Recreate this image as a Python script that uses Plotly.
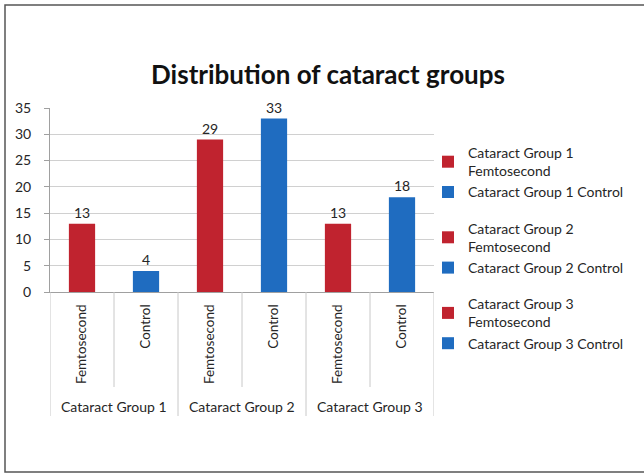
import plotly.graph_objects as go

groups = ["Cataract Group 1", "Cataract Group 2", "Cataract Group 3"]
subgroups = ["Femtosecond", "Control"]
values = [[13, 4], [29, 33], [13, 18]]
colors = {"Femtosecond": "#C0232F", "Control": "#1F6CC0"}
y_ticks = [0, 5, 10, 15, 20, 25, 30, 35]
title = "Distribution of cataract groups"

FONT = "Lato"
TXT = "#262626"

W, H = 644, 474
L, R, T, B = 50, 210, 108, 182
pw, ph = W - L - R, H - T - B

def px(x):
    return (x - L) / pw

def py(y):
    return (H - B - y) / ph

cats = [f"{g}|{s}" for g in groups for s in subgroups]

fig = go.Figure()
for gi, g in enumerate(groups):
    for si, s in enumerate(subgroups):
        v = values[gi][si]
        name = f"{g}<br>{s}" if s == "Femtosecond" else f"{g} {s}"
        fig.add_trace(go.Bar(
            x=[f"{g}|{s}"], y=[v], name=name,
            marker=dict(color=colors[s], line=dict(width=0)),
            width=0.41,
            text=[str(v)], textposition="outside",
            textfont=dict(family=FONT, size=14, color=TXT),
            cliponaxis=False,
            legendgroup=g,
        ))

shapes = []
n = len(cats)
for i in range(n - 1):
    if (i + 1) % len(subgroups) != 0:
        shapes.append(dict(type="line", xref="x", yref="paper",
                           x0=i + 0.5, x1=i + 0.5, y0=0, y1=py(387),
                           line=dict(color="#C8C8C8", width=1)))
for k in range(len(groups) + 1):
    xv = k * len(subgroups) - 0.5
    shapes.append(dict(type="line", xref="x", yref="paper",
                       x0=xv, x1=xv, y0=0, y1=py(416),
                       line=dict(color="#C8C8C8", width=1)))
shapes.append(dict(type="rect", xref="paper", yref="paper",
                   x0=px(5), x1=px(660), y0=py(472), y1=py(5),
                   line=dict(color="#555555", width=1.5), layer="below"))

annotations = []
for gi, g in enumerate(groups):
    annotations.append(dict(text=g, xref="paper", yref="paper",
                            x=(gi + 0.5) / len(groups), y=py(406),
                            showarrow=False, xanchor="center", yanchor="middle",
                            font=dict(family=FONT, size=14, color=TXT)))

fig.update_layout(
    width=W, height=H,
    margin=dict(l=L, r=R, t=T, b=B, autoexpand=False),
    paper_bgcolor="white", plot_bgcolor="white",
    barmode="overlay",
    title=dict(text=f"<b>{title}</b>", xref="container", x=328 / W, xanchor="center",
               yref="container", y=1 - 75 / H, yanchor="middle",
               font=dict(family=FONT, size=26, color="#111111")),
    xaxis=dict(categoryorder="array", categoryarray=cats,
               tickvals=cats, ticktext=[c.split("|")[1] for c in cats],
               tickangle=-90, ticks="", showgrid=False,
               showline=True, linecolor="#A0A0A0", linewidth=1,
               tickfont=dict(family=FONT, size=13.5, color=TXT),
               ticklabelstandoff=6, range=[-0.5, n - 0.5], fixedrange=True),
    yaxis=dict(range=[0, 35], tickvals=y_ticks, showgrid=True,
               gridcolor="#D0D0D0", gridwidth=1,
               showline=True, linecolor="#A0A0A0", linewidth=1,
               ticks="outside", ticklen=5, tickcolor="#A0A0A0",
               tickfont=dict(family=FONT, size=14, color=TXT),
               ticklabelstandoff=10, zeroline=False, fixedrange=True),
    showlegend=True,
    legend=dict(x=px(428), y=py(137), xanchor="left", yanchor="top",
                font=dict(family=FONT, size=14, color=TXT),
                tracegroupgap=15, itemwidth=30, traceorder="grouped",
                maxheight=320, bgcolor="rgba(0,0,0,0)"),
    shapes=shapes,
    annotations=annotations,
)

fig.write_html("out.html")
